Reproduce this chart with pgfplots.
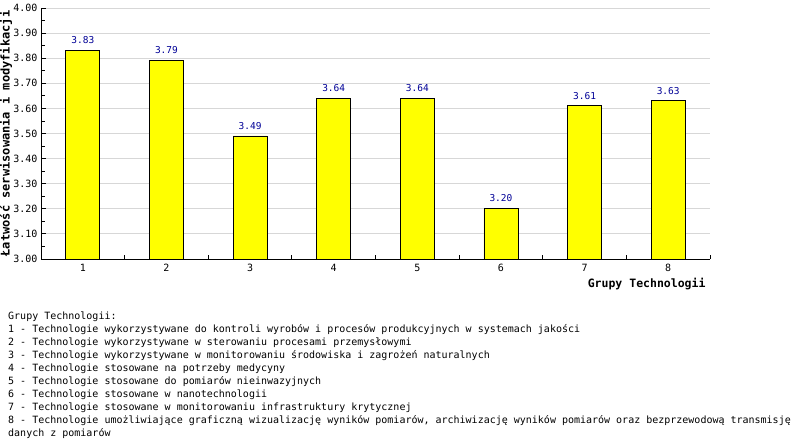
\documentclass[border=0pt]{standalone}
\usepackage{fontspec}
\setmainfont{DejaVu Sans Mono}
\usepackage{pgfplots}
\pgfplotsset{compat=1.18}
\definecolor{barfill}{RGB}{255,255,0}
\definecolor{valblue}{RGB}{0,0,150}
\definecolor{gridgray}{RGB}{215,215,215}
\begin{document}
\begin{tikzpicture}[x=1bp,y=1bp]
\path[use as bounding box] (0,0) rectangle (797,445);
\begin{axis}[
  at={(41bp,186bp)}, anchor=south west,
  scale only axis, width=669bp, height=251bp,
  xmin=0.5, xmax=8.5, ymin=3, ymax=4,
  axis x line*=bottom, axis y line*=left,
  axis line style={-, black},
  /pgf/number format/assume math mode=true,
  ytick={3,3.1,3.2,3.3,3.4,3.5,3.6,3.7,3.8,3.9,4},
  yticklabel style={/pgf/number format/.cd, fixed, fixed zerofill, precision=2},
  minor y tick num=1,
  ymajorgrids, grid style={gridgray, line width=0.8bp},
  xtick={1,2,3,4,5,6,7,8},
  major x tick style={draw=none},
  minor xtick={0.5,1.5,2.5,3.5,4.5,5.5,6.5,7.5,8.5},
  tick align=inside,
  major tick length=5bp, minor tick length=4bp,
  tick style={black, line width=0.8bp},
  ticklabel style={font=\fontsize{10bp}{12bp}\selectfont},
  xticklabel style={yshift=-2bp},
  xlabel={\textbf{Grupy Technologii}},
  xlabel style={at={(axis description cs:1,0)}, anchor=east, yshift=-25bp, xshift=-1bp, font=\fontsize{11.5bp}{13bp}\selectfont},
  ylabel={\textbf{Łatwość serwisowania i modyfikacji}},
  ylabel style={at={(axis description cs:-0.0523,0.5)}, anchor=center, font=\fontsize{12bp}{14bp}\selectfont},
  clip=true,
]
\addplot[ybar, fill=barfill, draw=black, line width=0.8bp, bar width=34bp,
  nodes near coords,
  nodes near coords style={anchor=south, yshift=3bp, text=valblue, font=\fontsize{9.5bp}{11bp}\selectfont,
    /pgf/number format/.cd, fixed, fixed zerofill, precision=2}]
  coordinates {(1,3.83) (2,3.79) (3,3.49) (4,3.64) (5,3.64) (6,3.20) (7,3.61) (8,3.63)};
\end{axis}
\begin{scope}[every node/.style={anchor=base west, inner sep=0pt, font=\fontsize{10bp}{12bp}\selectfont}]
\node at (8,125) {Grupy Technologii:};
\node at (8,112) {1 - Technologie wykorzystywane do kontroli wyrobów i procesów produkcyjnych w systemach jakości};
\node at (8,99) {2 - Technologie wykorzystywane w sterowaniu procesami przemysłowymi};
\node at (8,86) {3 - Technologie wykorzystywane w monitorowaniu środowiska i zagrożeń naturalnych};
\node at (8,73) {4 - Technologie stosowane na potrzeby medycyny};
\node at (8,60) {5 - Technologie stosowane do pomiarów nieinwazyjnych};
\node at (8,47) {6 - Technologie stosowane w nanotechnologii};
\node at (8,34) {7 - Technologie stosowane w monitorowaniu infrastruktury krytycznej};
\node at (8,21) {8 - Technologie umożliwiające graficzną wizualizację wyników pomiarów, archiwizację wyników pomiarów oraz bezprzewodową transmisję};
\node at (8,8) {danych z pomiarów};
\end{scope}
\end{tikzpicture}
\end{document}
